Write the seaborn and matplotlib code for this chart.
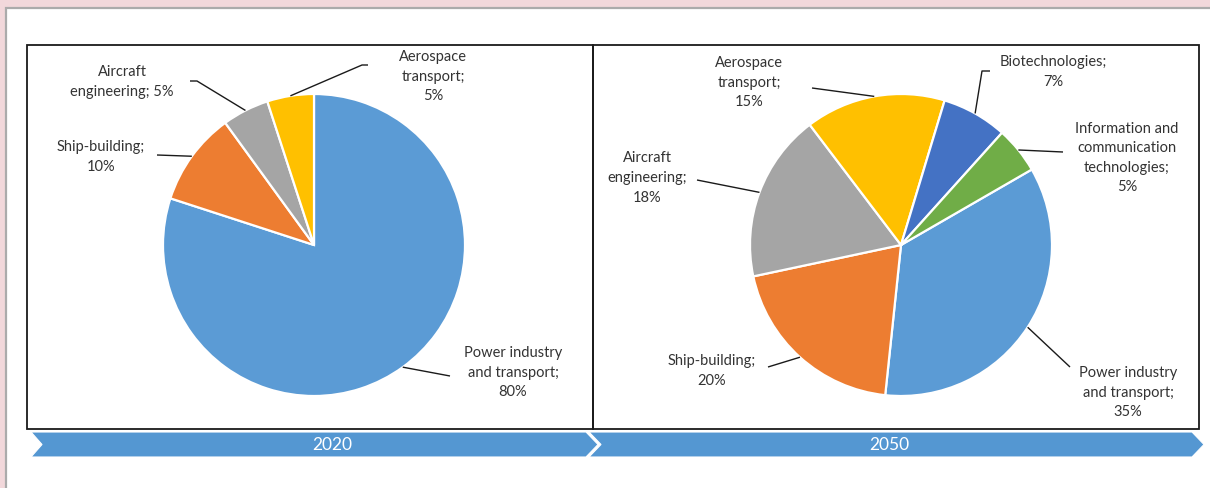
import numpy as np
import matplotlib
matplotlib.use("Agg")
import matplotlib.pyplot as plt
from matplotlib.patches import Rectangle, Polygon
import seaborn as sns

# ---------------- data ----------------
categories = ["Power industry and transport", "Ship-building", "Aircraft engineering",
              "Aerospace transport", "Biotechnologies",
              "Information and communication technologies"]
values_2020 = [80, 10, 5, 5]
values_2050 = [35, 20, 18, 15, 7, 5]
label_names_2020 = ["Power industry\nand transport;\n", "Ship-building;\n",
                    "Aircraft\nengineering; ", "Aerospace\ntransport;\n"]
label_names_2050 = ["Power industry\nand transport;\n", "Ship-building;\n",
                    "Aircraft\nengineering;\n", "Aerospace\ntransport;\n",
                    "Biotechnologies;\n", "Information and\ncommunication\ntechnologies;\n"]
years = ["2020", "2050"]

# ---------------- style ----------------
sns.set_theme(style="white")
plt.rcParams['font.family'] = ['Lato', 'DejaVu Sans']
palette = ["#5B9BD5", "#ED7D31", "#A5A5A5", "#FFC000", "#4472C4", "#70AD47"]
TXT = "#333333"

W, H = 1210, 488
fig = plt.figure(figsize=(W / 100, H / 100), dpi=100, facecolor="#f2d8db")
ax = fig.add_axes([0, 0, 1, 1])
ax.set_xlim(0, W)
ax.set_ylim(0, H)
ax.axis("off")

def Y(y):  # pixel y (from top) -> data y (from bottom)
    return H - y

# white sheet with grey edge
ax.add_patch(Rectangle((6, -10), W + 20, Y(8) + 10, facecolor="white",
                       edgecolor="#ababab", linewidth=1.6, zorder=0))

# panel boxes
for x0, x1 in [(27, 593), (593, 1199)]:
    ax.add_patch(Rectangle((x0, Y(429)), x1 - x0, 429 - 45, facecolor="none",
                           edgecolor="#1a1a1a", linewidth=1.3, zorder=1))

# timeline band
band_top, band_bot = Y(432), Y(457)
mid = (band_top + band_bot) / 2
seg1 = [(31, band_top), (586, band_top), (598, mid), (586, band_bot), (31, band_bot), (42, mid)]
seg2 = [(589, band_top), (1192, band_top), (1204, mid), (1192, band_bot), (589, band_bot), (601, mid)]
for seg in (seg1, seg2):
    ax.add_patch(Polygon(seg, closed=True, facecolor="#5497d2", edgecolor="white",
                         linewidth=0.8, zorder=1))
ax.text(332, mid, years[0], color="white", fontsize=12.5, ha="center", va="center", zorder=2)
ax.text(889, mid, years[1], color="white", fontsize=12.5, ha="center", va="center", zorder=2)

R = 151

def draw_pie(values, names, center, startangle, label_pos, leaders):
    wedges, _ = ax.pie(values, colors=palette[:len(values)], startangle=startangle,
                       counterclock=False, radius=R, center=center, frame=True,
                       wedgeprops=dict(edgecolor="white", linewidth=1.6))
    for i, w in enumerate(wedges):
        w.set_zorder(3)
        th = np.deg2rad((w.theta1 + w.theta2) / 2)
        px = center[0] + R * np.cos(th)
        py = center[1] + R * np.sin(th)
        pts = [(px, py)] + [(x, Y(y)) for x, y in leaders[i]]
        xs, ys = zip(*pts)
        ax.plot(xs, ys, color="#1a1a1a", linewidth=1.0, zorder=4, solid_capstyle="butt")
        lx, ly = label_pos[i]
        ax.text(lx, Y(ly), f"{names[i]}{values[i]}%", ha="center", va="center",
                fontsize=10.5, color=TXT, linespacing=1.5, zorder=5)

draw_pie(values_2020, label_names_2020, (314, Y(245)), 90,
         [(513, 373), (101, 157), (122, 82), (433, 77)],
         [[(450, 376)], [(157, 155)], [(197, 81), (190, 81)], [(362, 65), (368, 65)]])

draw_pie(values_2050, label_names_2050, (901, Y(245)), 30,
         [(1128, 393), (712, 371), (647, 178), (749, 83), (1053, 72), (1127, 158)],
         [[(1070, 367)], [(768, 367)], [(697, 180)], [(812, 88)],
          [(982, 71), (990, 71)], [(1063, 152)]])

ax.set_xlim(0, W)
ax.set_ylim(0, H)
ax.set_aspect("auto")
fig.savefig("out.png", dpi=100, facecolor=fig.get_facecolor())
